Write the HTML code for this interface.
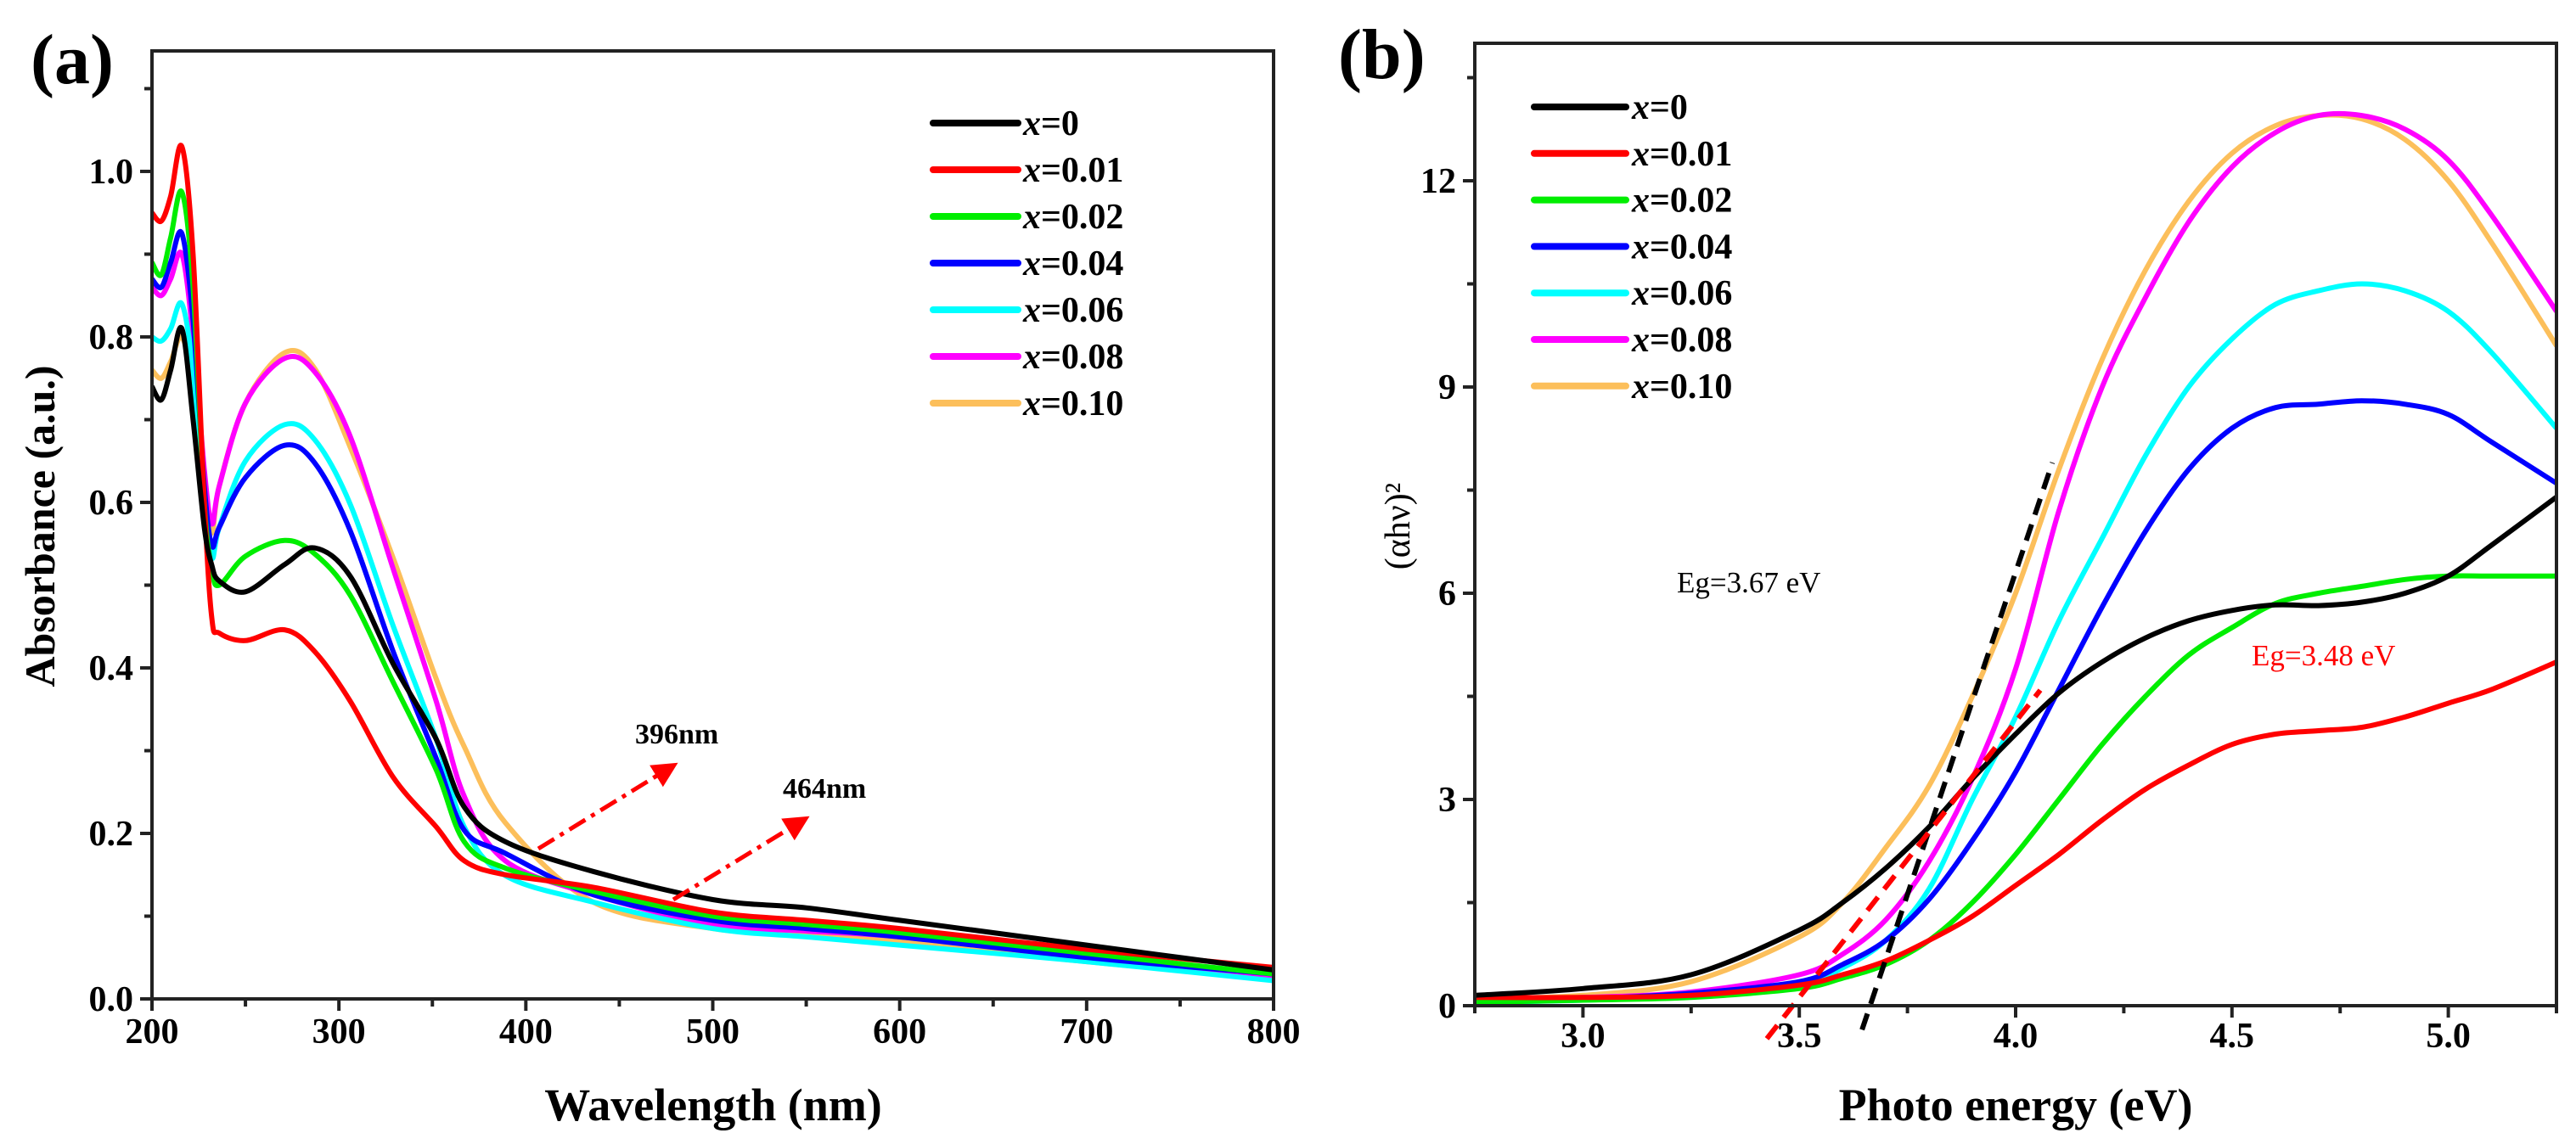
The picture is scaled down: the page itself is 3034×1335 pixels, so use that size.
<!DOCTYPE html>
<html><head><meta charset="utf-8"><style>
html,body{margin:0;padding:0;background:#fff;}
svg{display:block;font-family:"Liberation Serif",serif;}
</style></head><body>
<svg id="fig" width="3034" height="1335" viewBox="0 0 3034 1335" xmlns="http://www.w3.org/2000/svg">
<g id="pa"></g>
<g id="pb"></g>
</svg>
<script>
// ---------- Panel (a) data ----------
const seriesNames = ["x=0","x=0.01","x=0.02","x=0.04","x=0.06","x=0.08","x=0.10"];
const seriesLabels = ["0","0.01","0.02","0.04","0.06","0.08","0.10"];
const colors = ["#000000","#ff0000","#00ee00","#0000ff","#00ffff","#ff00ff","#fcbf5b"];
const aWl = [200,205,210,216,222,228,232,236,250,271,287,306,329,352,367,389,436,500,550,600,700,800];
const aBlack = [0.74,0.724,0.76,0.81,0.70,0.57,0.524,0.505,0.492,0.525,0.545,0.511,0.405,0.314,0.232,0.19,0.154,0.12,0.11,0.095,0.065,0.035];
const aRed   = [0.95,0.94,0.97,1.03,0.90,0.60,0.46,0.442,0.433,0.446,0.42,0.36,0.268,0.208,0.167,0.15,0.135,0.105,0.095,0.085,0.06,0.038];
const aGreen = [0.89,0.875,0.92,0.975,0.86,0.60,0.52,0.50,0.535,0.554,0.538,0.488,0.383,0.277,0.19,0.158,0.13,0.10,0.09,0.08,0.055,0.03];
const aBlue  = [0.87,0.86,0.89,0.925,0.82,0.62,0.548,0.57,0.63,0.669,0.648,0.566,0.42,0.291,0.204,0.176,0.126,0.095,0.085,0.075,0.05,0.03];
const aCyan  = [0.80,0.795,0.81,0.84,0.76,0.60,0.533,0.57,0.65,0.694,0.676,0.598,0.451,0.314,0.208,0.149,0.117,0.085,0.075,0.065,0.045,0.022];
const aMag   = [0.86,0.85,0.87,0.90,0.80,0.64,0.574,0.62,0.72,0.774,0.758,0.68,0.52,0.36,0.245,0.167,0.126,0.09,0.082,0.075,0.05,0.028];
const aOrange= [0.76,0.75,0.77,0.80,0.74,0.62,0.563,0.62,0.72,0.781,0.762,0.667,0.533,0.387,0.305,0.213,0.117,0.085,0.078,0.07,0.045,0.025];
const aSeries = [aBlack,aRed,aGreen,aBlue,aCyan,aMag,aOrange];
const aXTicks = [200,300,400,500,600,700,800];
const aYTicks = [0.0,0.2,0.4,0.6,0.8,1.0];
const aYTickLabels = ["0.0","0.2","0.4","0.6","0.8","1.0"];

// ---------- Panel (b) data ----------
const bE = [2.75,3.0,3.25,3.5,3.6,3.7,3.8,3.9,4.0,4.1,4.2,4.3,4.4,4.5,4.6,4.7,4.8,4.9,5.0,5.1,5.25];
const bBlack = [0.15,0.25,0.45,1.1,1.5,2.0,2.6,3.3,3.95,4.55,5.0,5.35,5.6,5.75,5.83,5.82,5.87,6.0,6.25,6.7,7.4];
const bRed   = [0.12,0.12,0.15,0.3,0.45,0.65,0.95,1.3,1.75,2.2,2.7,3.15,3.5,3.8,3.95,4.0,4.05,4.2,4.4,4.6,5.0];
const bGreen = [0.05,0.08,0.12,0.25,0.4,0.6,0.95,1.5,2.2,3.0,3.8,4.5,5.1,5.5,5.85,6.0,6.1,6.2,6.25,6.25,6.25];
const bBlue  = [0.05,0.1,0.18,0.35,0.6,0.95,1.55,2.4,3.4,4.6,5.8,6.9,7.8,8.4,8.7,8.75,8.8,8.75,8.6,8.2,7.6];
const bCyan  = [0.05,0.08,0.15,0.3,0.55,0.95,1.7,3.0,4.2,5.6,6.8,8.0,9.0,9.7,10.2,10.4,10.5,10.4,10.1,9.5,8.4];
const bMag   = [0.1,0.12,0.2,0.45,0.75,1.25,2.1,3.3,4.9,7.2,9.0,10.3,11.4,12.2,12.7,12.95,12.95,12.75,12.3,11.5,10.1];
const bOrange= [0.1,0.15,0.35,1.0,1.5,2.3,3.2,4.5,6.0,7.8,9.4,10.7,11.7,12.4,12.8,12.95,12.9,12.6,12.0,11.1,9.6];
const bSeries = [bBlack,bRed,bGreen,bBlue,bCyan,bMag,bOrange];
const bXTicks = [3.0,3.5,4.0,4.5,5.0];
const bXTickLabels = ["3.0","3.5","4.0","4.5","5.0"];
const bYTicks = [0,3,6,9,12];
const bFitBlack = [[3.645,-0.35],[4.085,7.9]];
const bFitRed = [[3.425,-0.48],[4.057,4.59]];

const NS="http://www.w3.org/2000/svg";
function mk(parent,tag,attrs,text){const e=document.createElementNS(NS,tag);for(const k in attrs)e.setAttribute(k,attrs[k]);if(text!==undefined)e.textContent=text;parent.appendChild(e);return e;}
function smooth(pts){let d=`M${pts[0][0].toFixed(1)},${pts[0][1].toFixed(1)}`;for(let i=0;i<pts.length-1;i++){const p0=pts[i-1]||pts[i],p1=pts[i],p2=pts[i+1],p3=pts[i+2]||p2;const t=1/6;const c1=[p1[0]+(p2[0]-p0[0])*t,p1[1]+(p2[1]-p0[1])*t];const c2=[p2[0]-(p3[0]-p1[0])*t,p2[1]-(p3[1]-p1[1])*t];d+=`C${c1[0].toFixed(1)},${c1[1].toFixed(1)} ${c2[0].toFixed(1)},${c2[1].toFixed(1)} ${p2[0].toFixed(1)},${p2[1].toFixed(1)}`;}return d;}

// ---------- Panel (a) ----------
(function(){
const g=document.getElementById('pa');
const L=179,R=1500,T=60,B=1177,x0=200,x1=800,y0=0,y1=1.1456;
const X=v=>L+(v-x0)/(x1-x0)*(R-L), Y=v=>B-(v-y0)/(y1-y0)*(B-T);
const clip=mk(g,'clipPath',{id:'clipA'});mk(clip,'rect',{x:L,y:T,width:R-L,height:B-T});
const lines=mk(g,'g',{'clip-path':'url(#clipA)'});


for(let s=aSeries.length-1;s>=0;s--){
 const pts=aWl.map((w,i)=>[X(w),Y(aSeries[s][i])]);
 const p=mk(lines,'path',{d:smooth(pts),fill:'none',stroke:colors[s],'stroke-width':6,'stroke-linejoin':'round'});
 
 
}
const fr=mk(g,'rect',{x:L,y:T,width:R-L,height:B-T,fill:'none',stroke:'#222','stroke-width':4});


for(let v=200;v<=800;v+=50){const major=v%100===0;mk(g,'line',{x1:X(v),x2:X(v),y1:B,y2:B+(major?14:9),stroke:'#222','stroke-width':4});}
aXTicks.forEach(v=>{const t=mk(g,'text',{x:X(v),y:1229,'text-anchor':'middle','font-size':42,'font-weight':'bold'},String(v));});
for(let v=0;v<=1.1;v+=0.1){mk(g,'line',{x1:L,x2:L-(Math.round(v*10)%2===0?14:9),y1:Y(v),y2:Y(v),stroke:'#222','stroke-width':4});}
aYTicks.forEach((v,i)=>{const t=mk(g,'text',{x:L-22,y:Y(v)+14,'text-anchor':'end','font-size':42,'font-weight':'bold'},aYTickLabels[i]);});
const xt=mk(g,'text',{x:840,y:1320,'text-anchor':'middle','font-size':54,'font-weight':'bold'},'Wavelength (nm)');

const yt=mk(g,'text',{x:0,y:0,transform:'translate(64,620) rotate(-90)','text-anchor':'middle','font-size':50,'font-weight':'bold'},'Absorbance (a.u.)');

const pl=mk(g,'text',{x:36,y:98,'font-size':84,'font-weight':'bold'},'(a)');

const lg=mk(g,'g',{});
seriesLabels.forEach((lab,i)=>{const y=145+i*55;
 const e=mk(lg,'g',{});
 mk(e,'line',{x1:1099,x2:1199,y1:y,y2:y,stroke:colors[i],'stroke-width':8,'stroke-linecap':'round'});
 const t=mk(e,'text',{x:1205,y:y+14,'font-size':42,'font-weight':'bold'});
 mk(t,'tspan',{'font-style':'italic'},'x');mk(t,'tspan',{},'='+lab);
});
mk(g,'defs',{}).innerHTML='<marker id="ah" markerWidth="6" markerHeight="6" refX="4" refY="3" orient="auto" markerUnits="strokeWidth"><path d="M0,0 L6,3 L0,6 z" fill="#ff0000"/></marker>';
const a1=mk(g,'line',{x1:634,y1:1000,x2:790,y2:904,stroke:'#ff0000','stroke-width':5,'stroke-dasharray':'22 8 5 8','marker-end':'url(#ah)'});

const a2=mk(g,'line',{x1:793,y1:1060,x2:945,y2:967,stroke:'#ff0000','stroke-width':5,'stroke-dasharray':'22 8 5 8','marker-end':'url(#ah)'});

const t1=mk(g,'text',{x:748,y:876,'font-size':34,'font-weight':'bold'},'396nm');
const t2=mk(g,'text',{x:922,y:940,'font-size':34,'font-weight':'bold'},'464nm');
})();

// ---------- Panel (b) ----------
(function(){
const g=document.getElementById('pb');
const L=1737,R=3011,T=51,B=1185,x0=2.75,x1=5.25,y0=0,y1=14;
const X=v=>L+(v-x0)/(x1-x0)*(R-L), Y=v=>B-(v-y0)/(y1-y0)*(B-T);
const clip=mk(g,'clipPath',{id:'clipB'});mk(clip,'rect',{x:L,y:T,width:R-L,height:B-T});
const lines=mk(g,'g',{'clip-path':'url(#clipB)'});


for(let s=bSeries.length-1;s>=0;s--){
 const pts=bE.map((e,i)=>[X(e),Y(bSeries[s][i])]);
 const p=mk(lines,'path',{d:smooth(pts),fill:'none',stroke:colors[s],'stroke-width':6,'stroke-linejoin':'round'});
 
 
}
const fb=mk(g,'line',{x1:X(bFitBlack[0][0]),y1:Y(bFitBlack[0][1]),x2:X(bFitBlack[1][0]),y2:Y(bFitBlack[1][1]),stroke:'#000','stroke-width':6,'stroke-dasharray':'20 12'});

const fr2=mk(g,'line',{x1:X(bFitRed[0][0]),y1:Y(bFitRed[0][1]),x2:X(bFitRed[1][0]),y2:Y(bFitRed[1][1]),stroke:'#ff0000','stroke-width':6,'stroke-dasharray':'20 12'});

const fr=mk(g,'rect',{x:L,y:T,width:R-L,height:B-T,fill:'none',stroke:'#222','stroke-width':4});

for(let v=2.75;v<=5.2501;v+=0.25){const major=Math.abs(v*2-Math.round(v*2))<1e-6;mk(g,'line',{x1:X(v),x2:X(v),y1:B,y2:B+(major?14:9),stroke:'#222','stroke-width':4});}
bXTicks.forEach((v,i)=>{const t=mk(g,'text',{x:X(v),y:1234,'text-anchor':'middle','font-size':42,'font-weight':'bold'},bXTickLabels[i]);});
for(let v=0;v<=13.6;v+=1.5){mk(g,'line',{x1:L,x2:L-(Math.round(v*2)%6===0?14:9),y1:Y(v),y2:Y(v),stroke:'#222','stroke-width':4});}
bYTicks.forEach(v=>{const t=mk(g,'text',{x:L-22,y:Y(v)+14,'text-anchor':'end','font-size':42,'font-weight':'bold'},String(v));});
const xt=mk(g,'text',{x:2374,y:1320,'text-anchor':'middle','font-size':54,'font-weight':'bold'},'Photo energy (eV)');

const yt=mk(g,'text',{x:0,y:0,transform:'translate(1660,620) rotate(-90)','text-anchor':'middle','font-size':42},'(αhν)²');

const pl=mk(g,'text',{x:1576,y:92,'font-size':84,'font-weight':'bold'},'(b)');

const lg=mk(g,'g',{});
seriesLabels.forEach((lab,i)=>{const y=126+i*54.8;
 const e=mk(lg,'g',{});
 mk(e,'line',{x1:1807,x2:1915,y1:y,y2:y,stroke:colors[i],'stroke-width':8,'stroke-linecap':'round'});
 const t=mk(e,'text',{x:1922,y:y+14,'font-size':42,'font-weight':'bold'});
 mk(t,'tspan',{'font-style':'italic'},'x');mk(t,'tspan',{},'='+lab);
});
const e1=mk(g,'text',{x:1975,y:698,'font-size':35},'Eg=3.67 eV');
const e2=mk(g,'text',{x:2652,y:784,'font-size':35,fill:'#ff0000'},'Eg=3.48 eV');
})();
</script>
</body></html>
